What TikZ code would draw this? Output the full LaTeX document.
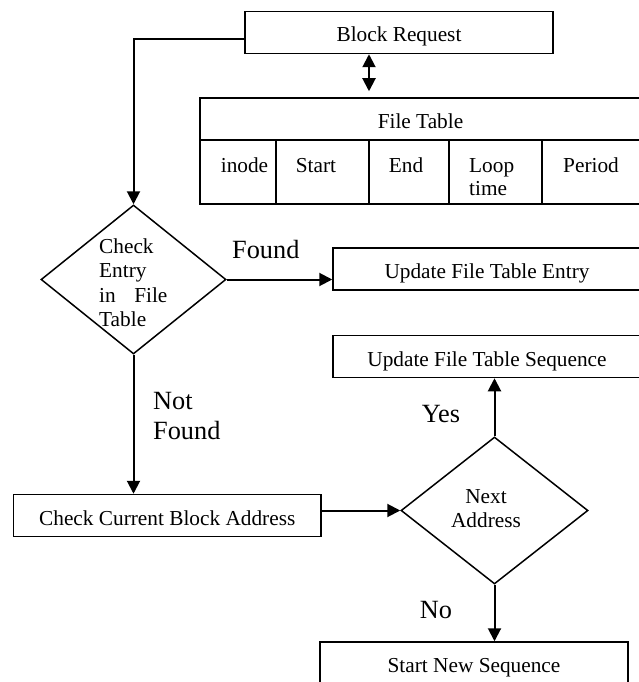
\documentclass[tikz,border=0pt]{standalone}
\usepackage{fontspec}
\setmainfont{Liberation Serif}
\usetikzlibrary{shapes.geometric,arrows.meta}

\begin{document}
\begin{tikzpicture}[x=1pt,y=-1pt,
  font=\fontsize{21.3}{24.3}\selectfont,
  box/.style={draw, line width=1.5pt, rectangle, inner sep=0pt,
              minimum height=42pt, text height=20pt, text depth=1pt},
  cell/.style={draw, line width=1.5pt, rectangle, inner sep=0pt},
  decision/.style={draw, line width=1.5pt, diamond, inner sep=0pt},
  tip/.style={},
  conn/.style={line width=2pt, -{Triangle[length=13pt,width=13pt]}},
  twoway/.style={line width=2pt,
                 {Triangle[length=13pt,width=13pt]}-{Triangle[length=13pt,width=13pt]}},
  lbl/.style={inner sep=0pt, font=\fontsize{26.3}{30}\selectfont},
  txt/.style={inner sep=0pt}
]
\useasboundingbox (0,0) rectangle (639,682);
\clip (0,0) rectangle (639,682);

% request box
\node[box, minimum width=308pt] (br) at (399,32.5) {Block Request};

% file table: header row and five columns
\node[box, minimum width=441pt] (fth) at (420.5,119) {File Table};
\node[cell, minimum width=76pt, minimum height=64pt] (c1) at (238,172) {};
\node[cell, minimum width=93pt, minimum height=64pt] (c2) at (322.5,172) {};
\node[cell, minimum width=80pt, minimum height=64pt] (c3) at (409,172) {};
\node[cell, minimum width=93pt, minimum height=64pt] (c4) at (495.5,172) {};
\node[cell, minimum width=99pt, minimum height=64pt] (c5) at (591.5,172) {};
\node[txt, anchor=base] (t1) at (244.5,172) {inode};
\node[txt, anchor=base] (t2) at (316,172) {Start};
\node[txt, anchor=base] (t3) at (406,172) {End};
\node[txt, anchor=base west] (t4a) at (469,172) {Loop};
\node[txt, anchor=base west] (t4b) at (469,195) {time};
\node[txt, anchor=base] (t5) at (591,172) {Period};

% first decision
\node[decision, minimum width=185pt, minimum height=149pt] (d1) at (133.5,279.5) {};
\node[txt, align=left, anchor=north west] (d1t) at (99,238.5)
  {Check\\Entry\\in\hspace{18.5pt}File\\Table};

% right-hand boxes
\node[box, minimum width=308pt] (entry) at (487,269) {Update File Table Entry};
\node[box, minimum width=308pt] (seq) at (487,356.5) {Update File Table Sequence};
\node[box, minimum width=307.5pt] (chk) at (167.25,515.5) {Check Current Block Address};

% second decision
\node[decision, minimum width=187pt, minimum height=147pt] (d2) at (494.5,510.5) {};
\node[txt, align=center, anchor=north] (d2t) at (486,489) {Next\\Address};

\node[box, minimum width=308pt] (start) at (474,663) {Start New Sequence};

% connectors
\coordinate (brl) at (245,39);
\coordinate (dx) at (369,0);
\draw[conn] (brl) -| (d1.north);
\draw[twoway, shorten >=6pt] (br.south -| dx) -- (fth.north -| dx);
\draw[conn] (d1.east) -- (entry.west |- d1.east);
\draw[conn] (d1.south) -- (d1.south |- chk.north);
\draw[conn] (chk.east |- d2.west) -- (d2.west);
\draw[conn] (d2.north) -- (d2.north |- seq.south);
\draw[conn] (d2.south) -- (d2.south |- start.north);

% branch labels
\node[lbl, anchor=base west] (lfound) at (232,258) {Found};
\node[lbl, align=left, anchor=north west] (lnot) at (153,391.6) {Not\\Found};
\node[lbl, anchor=base] (lyes) at (441,422) {Yes};
\node[lbl, anchor=base] (lno) at (436,618) {No};
\end{tikzpicture}
\end{document}
